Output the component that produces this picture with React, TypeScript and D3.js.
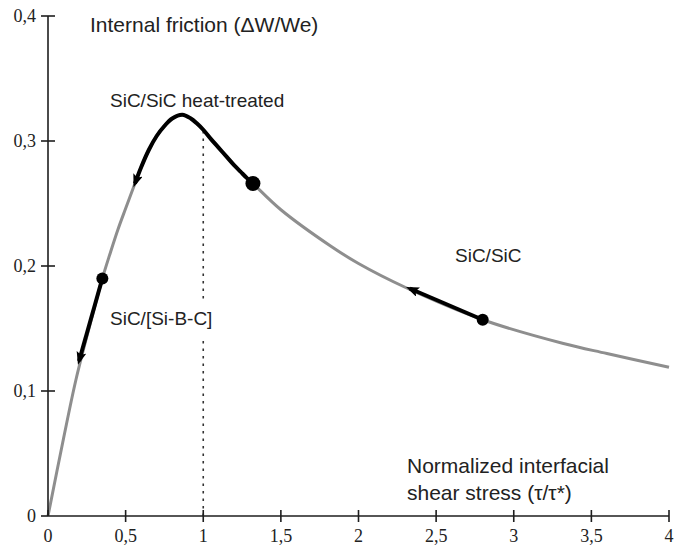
import React, { useEffect } from 'react';
import * as d3 from 'd3';

const xTicks = [0, 0.5, 1, 1.5, 2, 2.5, 3, 3.5, 4];
const xTickLabels = ['0', '0,5', '1', '1,5', '2', '2,5', '3', '3,5', '4'];
const yTicks = [0, 0.1, 0.2, 0.3, 0.4];
const yTickLabels = ['0', '0,1', '0,2', '0,3', '0,4'];

// main master curve (grey)
const mainCurve: [number, number][] = [
  [0, 0], [0.1, 0.062], [0.18, 0.109], [0.27, 0.153], [0.35, 0.19], [0.4, 0.21],
  [0.45, 0.229], [0.5, 0.246], [0.56, 0.266], [0.6, 0.279], [0.65, 0.293],
  [0.7, 0.304], [0.75, 0.312], [0.8, 0.318], [0.865, 0.321], [0.92, 0.318],
  [0.96, 0.314], [1.0, 0.309], [1.05, 0.3015], [1.1, 0.2945], [1.15, 0.2875],
  [1.2, 0.2805], [1.24, 0.2755], [1.28, 0.2705], [1.32, 0.266], [1.5, 0.245],
  [1.82, 0.216], [2.0, 0.202], [2.3, 0.183], [2.8, 0.157], [3.32, 0.138],
  [3.6, 0.13], [4.0, 0.119],
];

// black evolution paths (start at dot, end at arrow)
const heatTreatedPath: [number, number][] = [
  [1.32, 0.266], [1.28, 0.2705], [1.24, 0.2755], [1.2, 0.2805], [1.15, 0.2875],
  [1.1, 0.2945], [1.05, 0.3015], [1.0, 0.309], [0.96, 0.314], [0.92, 0.318],
  [0.865, 0.321], [0.8, 0.318], [0.75, 0.312], [0.7, 0.304], [0.65, 0.293],
  [0.6, 0.279], [0.56, 0.266],
];
const sibcPath: [number, number][] = [[0.35, 0.19], [0.2, 0.124]];
const sicPath: [number, number][] = [[2.8, 0.157], [2.33, 0.182]];

const dots: { x: number; y: number; big: boolean }[] = [
  { x: 0.35, y: 0.19, big: false },
  { x: 1.32, y: 0.266, big: true },
  { x: 2.8, y: 0.157, big: false },
];

const dottedX = 1;
const dottedTop = 0.308;

export default function App() {
  useEffect(() => {
    document.body.style.margin = '0';
  }, []);

  const W = 676, H = 546;
  const x = d3.scaleLinear().domain([0, 4]).range([48, 669]);
  const y = d3.scaleLinear().domain([0, 0.4]).range([516, 16]);

  const line = d3
    .line<[number, number]>()
    .x((d) => x(d[0]))
    .y((d) => y(d[1]))
    .curve(d3.curveCatmullRom.alpha(0.5));

  const axisColor = '#1e1e1e';
  const textColor = '#222';
  const sans = '"Liberation Sans", Arial, sans-serif';
  const serif = '"Liberation Serif", "Times New Roman", serif';

  return (
    <svg width={W} height={H} style={{ position: 'absolute', left: 0, top: 0, background: '#fff' }}>
      <defs>
        <marker id="arr" markerUnits="userSpaceOnUse" markerWidth={14} markerHeight={12}
          refX={9} refY={5} orient="auto" viewBox="0 0 14 12">
          <path d="M0,0 L13,5 L0,10 L2.5,5 z" fill="#000" />
        </marker>
      </defs>
      <rect x={0} y={0} width={W} height={H} fill="#fff" />

      {/* dotted vertical line */}
      <line x1={x(dottedX)} x2={x(dottedX)} y1={y(0)} y2={y(dottedTop)}
        stroke="#333" strokeWidth={1.6} strokeDasharray="2.5,5" />

      {/* main grey curve */}
      <path d={line(mainCurve) || ''} fill="none" stroke="#8e8e8e" strokeWidth={3} />

      {/* black paths with arrows */}
      <path d={line(heatTreatedPath) || ''} fill="none" stroke="#000" strokeWidth={4}
        markerEnd="url(#arr)" />
      <path d={line(sibcPath) || ''} fill="none" stroke="#000" strokeWidth={4}
        markerEnd="url(#arr)" />
      <path d={line(sicPath) || ''} fill="none" stroke="#000" strokeWidth={4}
        markerEnd="url(#arr)" />

      {dots.map((d, i) => (
        <circle key={i} cx={x(d.x)} cy={y(d.y)} r={d.big ? 7.5 : 6} fill="#000" />
      ))}

      {/* axes */}
      <line x1={x(0)} x2={x(0)} y1={y(0)} y2={y(0.4)} stroke={axisColor} strokeWidth={1.6} />
      <line x1={x(0)} x2={x(4)} y1={y(0)} y2={y(0)} stroke={axisColor} strokeWidth={1.6} />
      {yTicks.map((t, i) => (
        <g key={'y' + i}>
          <line x1={x(0) - 7} x2={t === 0 ? x(0) : x(0) + 7} y1={y(t)} y2={y(t)}
            stroke={axisColor} strokeWidth={1.6} />
          <text x={36} y={y(t)} dy="0.35em" textAnchor="end" fontFamily={serif}
            fontSize={18} fill={textColor}>{yTickLabels[i]}</text>
        </g>
      ))}
      {xTicks.map((t, i) => (
        <g key={'x' + i}>
          <line x1={x(t)} x2={x(t)} y1={y(0) - 6} y2={t === 0 ? y(0) : y(0) + 6}
            stroke={axisColor} strokeWidth={1.6} />
          <text x={x(t)} y={542} textAnchor="middle" fontFamily={serif}
            fontSize={18} fill={textColor}>{xTickLabels[i]}</text>
        </g>
      ))}

      {/* titles */}
      <text x={90} y={32} fontFamily={sans} fontSize={21} fill={textColor}>
        Internal friction (ΔW/We)
      </text>
      <text x={407} y={473} fontFamily={sans} fontSize={21} fill={textColor}>
        Normalized interfacial
      </text>
      <text x={407} y={500} fontFamily={sans} fontSize={21} fill={textColor}>
        shear stress (τ/τ*)
      </text>

      {/* curve labels */}
      <text x={110} y={107} fontFamily={sans} fontSize={19} fill={textColor}>
        SiC/SiC heat-treated
      </text>
      <rect x={106} y={303} width={110} height={34} fill="#fff" />
      <text x={110} y={325} fontFamily={sans} fontSize={19} fill={textColor}>
        SiC/[Si-B-C]
      </text>
      <text x={455} y={262} fontFamily={sans} fontSize={19} fill={textColor}>
        SiC/SiC
      </text>
    </svg>
  );
}
